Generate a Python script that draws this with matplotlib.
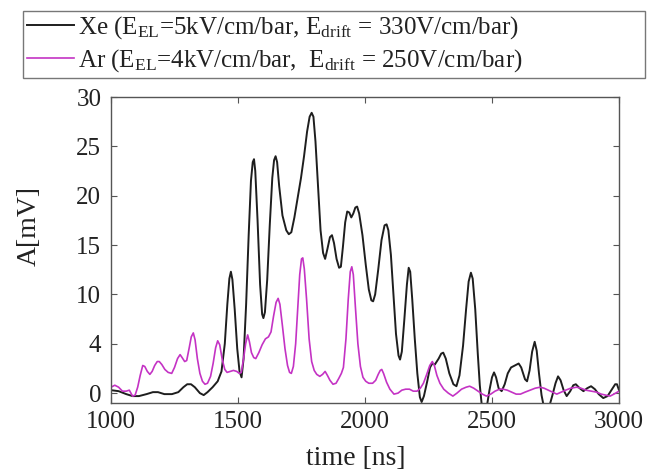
import matplotlib
matplotlib.use("Agg")
import matplotlib.pyplot as plt

# ---- data ----
xe_t = [1000, 1030, 1060, 1085, 1110, 1140, 1165, 1185, 1210, 1240, 1265, 1285, 1300, 1315,
        1330, 1350, 1365, 1380, 1400, 1420, 1435, 1448, 1458, 1466, 1472, 1478, 1487, 1497,
        1506, 1514, 1522, 1532, 1542, 1551, 1558, 1563, 1568, 1577, 1587, 1595, 1600, 1606,
        1615, 1625, 1635, 1642, 1648, 1654, 1662, 1675, 1690, 1700, 1710, 1722, 1735, 1748,
        1760, 1772, 1782, 1790, 1797, 1805, 1815, 1825, 1835, 1843, 1852, 1862, 1870, 1878,
        1888, 1898, 1905, 1913, 1922, 1930, 1938, 1946, 1954, 1962, 1969, 1977, 1990, 2003,
        2015, 2025, 2032, 2040, 2052, 2065, 2077, 2085, 2092, 2102, 2112, 2122, 2132, 2138,
        2145, 2155, 2165, 2172, 2178, 2186, 2196, 2206, 2216, 2223, 2232, 2245, 2256, 2265,
        2275, 2290, 2300, 2308, 2318, 2332, 2348, 2360, 2372, 2386, 2398, 2408, 2417, 2424,
        2434, 2444, 2452, 2460, 2470, 2480, 2490, 2500, 2508, 2516, 2526, 2538, 2550, 2562,
        2575, 2590, 2605, 2615, 2630, 2638, 2648, 2658, 2668, 2676, 2685, 2695, 2705, 2715,
        2725, 2738, 2750, 2760, 2770, 2782, 2794, 2808, 2820, 2830, 2845, 2860, 2875, 2890,
        2905, 2920, 2938, 2955, 2970, 2985, 2992, 3000]
xe_a = [0.3, 0.2, -0.1, -0.3, -0.3, -0.1, 0.1, 0.1, -0.1, -0.1, 0.1, 0.6, 0.9, 0.9,
        0.6, 0.0, -0.2, 0.1, 0.6, 1.2, 2.2, 5.0, 9.0, 11.6, 12.3, 11.5, 8.5, 4.5,
        2.2, 1.6, 3.5, 9.0, 16.0, 21.5, 23.4, 23.7, 22.5, 17.5, 11.0, 8.0, 7.6, 8.2,
        11.5, 17.0, 21.8, 23.6, 24.0, 23.4, 21.0, 18.0, 16.5, 16.1, 16.3, 17.8, 19.8, 21.8,
        24.0, 26.5, 28.0, 28.4, 28.0, 25.5, 21.0, 16.5, 14.2, 13.6, 14.6, 15.8, 16.0, 15.2,
        13.6, 12.7, 12.8, 14.8, 17.3, 18.4, 18.3, 17.8, 18.2, 18.8, 18.9, 18.2, 16.0, 13.0,
        10.5, 9.4, 9.3, 10.0, 12.5, 15.5, 17.0, 17.1, 16.5, 14.0, 10.0, 6.0, 3.8, 3.4,
        4.2, 7.5, 11.0, 12.7, 12.3, 9.5, 5.5, 2.0, -0.4, -0.9, -0.3, 1.2, 2.6, 3.0,
        2.9, 3.5, 4.0, 4.1, 3.5, 2.0, 0.9, 0.7, 1.8, 4.8, 8.5, 11.3, 12.2, 11.6,
        8.5, 4.0, 0.8, -1.3, -2.0, -1.3, 0.3, 1.6, 2.1, 1.6, 0.5, 0.2, 0.9, 2.0,
        2.6, 2.8, 3.0, 2.6, 1.4, 1.2, 2.3, 4.2, 5.2, 4.3, 2.0, -0.2, -1.5, -2.0,
        -1.4, -0.2, 1.0, 1.7, 1.3, 0.3, -0.3, 0.2, 0.8, 0.9, 0.5, 0.2, 0.5, 0.7,
        0.4, -0.1, -0.5, -0.3, 0.3, 0.9, 0.9, 0.3]

ar_t = [1000, 1015, 1030, 1045, 1060, 1072, 1085, 1095, 1105, 1115, 1125, 1133, 1143, 1153,
        1162, 1172, 1182, 1190, 1200, 1212, 1225, 1239, 1250, 1262, 1272, 1280, 1290, 1298,
        1308, 1316, 1324, 1331, 1340, 1350, 1360, 1370, 1380, 1392, 1402, 1412, 1420, 1428,
        1438, 1448, 1457, 1470, 1482, 1495, 1505, 1513, 1522, 1530, 1538, 1545, 1553, 1562,
        1570, 1582, 1595, 1608, 1620, 1630, 1640, 1650, 1658, 1665, 1675, 1685, 1695, 1703,
        1710, 1718, 1727, 1735, 1743, 1750, 1755, 1761, 1770, 1780, 1790, 1800, 1810, 1822,
        1833, 1843, 1852, 1862, 1874, 1886, 1897, 1907, 1915, 1925, 1934, 1942, 1948, 1954,
        1962, 1972, 1982, 1992, 2003, 2015, 2030, 2042, 2052, 2060, 2066, 2073, 2085, 2098,
        2114, 2130, 2145, 2160, 2175, 2190, 2205, 2218, 2230, 2243, 2255, 2265, 2273, 2283,
        2295, 2310, 2328, 2346, 2362, 2380, 2398, 2412, 2428, 2445, 2462, 2478, 2495, 2512,
        2530, 2544, 2560, 2578, 2595, 2612, 2630, 2650, 2670, 2689, 2705, 2722, 2740, 2755,
        2772, 2790, 2810, 2833, 2850, 2870, 2892, 2912, 2930, 2948, 2965, 2980, 3000]
ar_a = [0.6, 0.8, 0.6, 0.2, 0.2, 0.3, -0.3, -0.2, 0.6, 1.8, 2.8, 2.7, 2.2, 1.9,
        2.2, 2.8, 3.2, 3.2, 2.9, 2.4, 2.1, 2.0, 2.6, 3.5, 3.9, 3.6, 3.2, 3.3,
        4.6, 5.7, 6.1, 5.4, 3.5, 2.0, 1.2, 0.9, 1.0, 1.7, 3.0, 4.6, 5.3, 4.9,
        3.4, 2.4, 2.1, 2.2, 2.3, 2.2, 2.0, 2.1, 3.5, 5.0, 5.9, 5.2, 4.1, 3.6,
        3.5, 4.1, 4.9, 5.5, 5.7, 6.2, 7.8, 9.2, 9.6, 9.0, 6.8, 4.5, 2.8, 2.1,
        2.0, 2.7, 5.0, 8.5, 12.0, 13.6, 13.7, 12.6, 9.5, 5.5, 3.2, 2.3, 1.9, 1.7,
        1.9, 2.2, 1.8, 1.3, 0.9, 1.0, 1.5, 2.0, 2.6, 5.5, 9.5, 12.3, 12.8, 12.0,
        8.8, 5.0, 2.7, 1.6, 1.2, 1.0, 1.0, 1.3, 1.9, 2.3, 2.4, 2.0, 1.1, 0.4,
        -0.1, 0.0, 0.3, 0.4, 0.4, 0.2, 0.2, 0.5, 1.0, 1.9, 2.8, 3.2, 2.8, 1.8,
        1.0, 0.4, 0.0, -0.3, 0.0, 0.4, 0.6, 0.7, 0.5, 0.2, -0.1, -0.3, -0.1, 0.2,
        0.4, 0.4, 0.3, 0.1, -0.1, -0.1, 0.1, 0.3, 0.5, 0.6, 0.5, 0.3, 0.1, -0.1,
        0.1, 0.3, 0.5, 0.6, 0.5, 0.3, 0.2, 0.1, -0.1, -0.2, -0.3, -0.1, 0.2]

xe_label = r"Xe (E$_{\mathrm{EL}}$=5kV/cm/bar, E$_{\mathrm{drift}}$ = 330V/cm/bar)"
ar_label = r"Ar (E$_{\mathrm{EL}}$=4kV/cm/bar,  E$_{\mathrm{drift}}$ = 250V/cm/bar)"
x_ticks = [1000, 1500, 2000, 2500, 3000]
y_ticks = [0, 5, 10, 15, 20, 25, 30]
y_ticklabels = ["0", "4", "10", "15", "20", "25", "30"]

# ---- style ----
plt.rcParams["font.family"] = ["Liberation Serif", "DejaVu Serif"]
plt.rcParams["mathtext.fontset"] = "custom"
plt.rcParams["mathtext.rm"] = "Liberation Serif"
plt.rcParams["mathtext.it"] = "Liberation Serif:italic"

W, H = 652, 472
fig = plt.figure(figsize=(W / 100, H / 100), dpi=100)
ax = fig.add_axes([111 / W, (H - 403) / H, 508 / W, 306 / H])

l1, = ax.plot(xe_t, xe_a, color="#1e1e1e", lw=1.4, label=xe_label)
l2, = ax.plot(ar_t, ar_a, color="#c433c4", lw=1.2, label=ar_label)

ax.set_xlim(1000, 3000)
ax.set_ylim(-1, 30)
ax.set_xticks(x_ticks)
ax.set_yticks(y_ticks)
ax.set_yticklabels(y_ticklabels)
ax.tick_params(direction="in", length=4, width=0.8, colors="#555555",
               labelcolor="#222222", labelsize=18, top=True, right=True)
ax.tick_params(axis="x", pad=6)
ax.tick_params(axis="y", pad=7)
for s in ax.spines.values():
    s.set_color("#555555")
    s.set_linewidth(1.0)

ax.set_xlabel("time [ns]", fontsize=20, color="#222222")
ax.xaxis.set_label_coords((356 - 111) / 508, (403 - 446) / 306)
ax.set_ylabel("A[mV]", fontsize=20, color="#222222")
ax.yaxis.set_label_coords((42 - 111) / 508, (403 - 226) / 306)

leg = fig.legend(handles=[l1, l2], loc="lower left",
                 bbox_to_anchor=(23 / W, (H - 78) / H, 622 / W, 75 / H),
                 mode="expand", fontsize=18, frameon=True, fancybox=False,
                 handlelength=1.9, handletextpad=0.15, borderpad=0.15,
                 labelspacing=0.25, borderaxespad=0)
leg.get_frame().set_edgecolor("#555555")
leg.get_frame().set_linewidth(1.0)
for t in leg.get_texts():
    t.set_color("#222222")

fig.savefig("out.png", dpi=100)
